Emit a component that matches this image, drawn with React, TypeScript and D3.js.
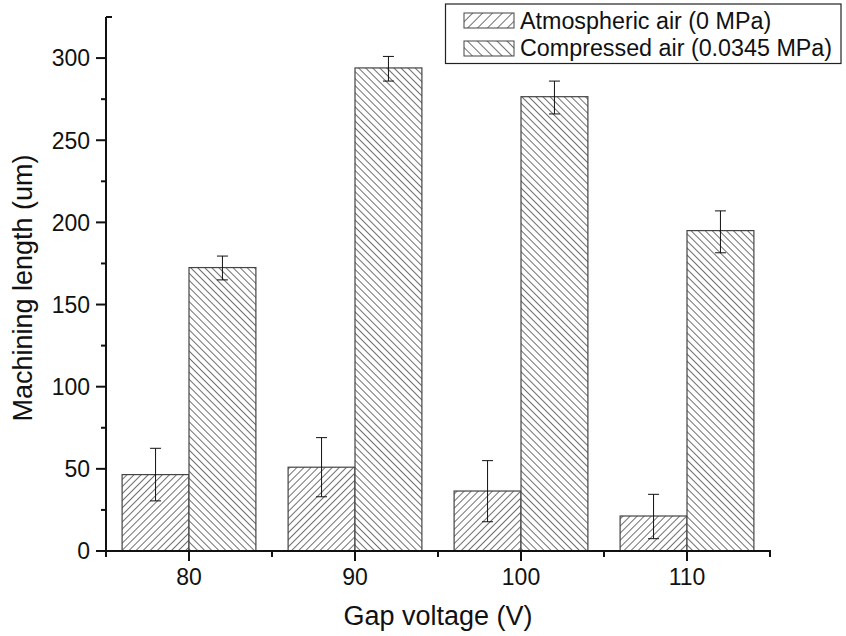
import React from "react";
import * as d3 from "d3";

const categories = ["80", "90", "100", "110"];
const seriesNames = ["Atmospheric air (0 MPa)", "Compressed air (0.0345 MPa)"];
const atmValues = [46.5, 51, 36.5, 21.3];
const atmErrLow = [30.5, 33, 17.8, 7.5];
const atmErrHigh = [62.5, 69, 55, 34.5];
const compValues = [172.5, 294, 276.5, 195];
const compErrLow = [165, 286, 266, 181.5];
const compErrHigh = [179.5, 301, 286, 207];
const yTicks = [0, 50, 100, 150, 200, 250, 300];
const yMinorTicks = [25, 75, 125, 175, 225, 275, 325];

const W = 846;
const H = 636;
const left = 106;
const right = 770;
const top = 17;
const bottom = 551;
const FONT = "'Liberation Sans', Arial, sans-serif";

export default function App() {
  const x = d3.scaleBand<string>().domain(categories).range([left, right]).paddingInner(0).paddingOuter(0);
  const y = d3.scaleLinear().domain([0, 325]).range([bottom, top]);
  const bw = x.bandwidth();
  const barW = bw * 0.403;
  const series = [
    { vals: atmValues, lo: atmErrLow, hi: atmErrHigh, fill: "url(#hatchA)", off: -barW },
    { vals: compValues, lo: compErrLow, hi: compErrHigh, fill: "url(#hatchB)", off: 0 },
  ];
  const minorX: number[] = [];
  categories.forEach((c) => minorX.push(x(c)!));
  minorX.push(right);

  return (
    <svg width={W} height={H} style={{ position: "absolute", left: 0, top: 0, background: "#fff" }} fontFamily={FONT}>
      <defs>
        <pattern id="hatchA" patternUnits="userSpaceOnUse" width={5} height={5} patternTransform="rotate(45)">
          <rect width={5} height={5} fill="#fff" />
          <line x1={0} y1={0} x2={0} y2={5} stroke="#111" strokeWidth={1.2} />
        </pattern>
        <pattern id="hatchB" patternUnits="userSpaceOnUse" width={5} height={5} patternTransform="rotate(-45)">
          <rect width={5} height={5} fill="#fff" />
          <line x1={0} y1={0} x2={0} y2={5} stroke="#111" strokeWidth={1.2} />
        </pattern>
        <pattern id="hatchAL" patternUnits="userSpaceOnUse" width={7} height={7} patternTransform="rotate(45)">
          <rect width={7} height={7} fill="#fff" />
          <line x1={0} y1={0} x2={0} y2={7} stroke="#111" strokeWidth={1.2} />
        </pattern>
        <pattern id="hatchBL" patternUnits="userSpaceOnUse" width={7} height={7} patternTransform="rotate(-45)">
          <rect width={7} height={7} fill="#fff" />
          <line x1={0} y1={0} x2={0} y2={7} stroke="#111" strokeWidth={1.2} />
        </pattern>
      </defs>
      <rect width={W} height={H} fill="#fff" />
      {series.map((s, si) =>
        categories.map((c, i) => {
          const cx = x(c)! + bw / 2;
          const x0 = cx + s.off;
          return (
            <g key={`b${si}-${i}`}>
              <rect x={x0} y={y(s.vals[i])} width={barW} height={bottom - y(s.vals[i])} fill={s.fill} stroke="#444" strokeWidth={1.2} />
            </g>
          );
        })
      )}
      {series.map((s, si) =>
        categories.map((c, i) => {
          const cx = x(c)! + bw / 2;
          const ex = cx + s.off + barW / 2;
          return (
            <g key={`e${si}-${i}`} stroke="#111" strokeWidth={1}>
              <line x1={ex} x2={ex} y1={y(s.hi[i])} y2={y(s.lo[i])} />
              <line x1={ex - 5.5} x2={ex + 5.5} y1={y(s.hi[i])} y2={y(s.hi[i])} />
              <line x1={ex - 5.5} x2={ex + 5.5} y1={y(s.lo[i])} y2={y(s.lo[i])} />
            </g>
          );
        })
      )}
      {/* axes */}
      <line x1={left} x2={left} y1={top} y2={bottom + 1} stroke="#111" strokeWidth={2} />
      <line x1={left - 1} x2={right + 1} y1={bottom} y2={bottom} stroke="#111" strokeWidth={2} />
      <line x1={left} x2={left + 6} y1={top} y2={top} stroke="#111" strokeWidth={2} />
      {yTicks.map((t) => (
        <g key={`yt${t}`}>
          <line x1={left - 10} x2={left} y1={y(t)} y2={y(t)} stroke="#111" strokeWidth={2} />
          <text x={left - 16} y={y(t)} dy="0.36em" textAnchor="end" fontSize={23} fill="#111">{t}</text>
        </g>
      ))}
      {yMinorTicks.filter((t) => y(t) > top + 2).map((t) => (
        <line key={`ym${t}`} x1={left - 5} x2={left} y1={y(t)} y2={y(t)} stroke="#111" strokeWidth={2} />
      ))}
      {categories.map((c) => (
        <g key={`xt${c}`}>
          <line x1={x(c)! + bw / 2} x2={x(c)! + bw / 2} y1={bottom} y2={bottom + 10} stroke="#111" strokeWidth={2} />
          <text x={x(c)! + bw / 2} y={585} textAnchor="middle" fontSize={23} fill="#111">{c}</text>
        </g>
      ))}
      {minorX.map((mx, i) => (
        <line key={`xm${i}`} x1={mx} x2={mx} y1={bottom} y2={bottom + 6} stroke="#111" strokeWidth={2} />
      ))}
      <text x={(left + right) / 2} y={625} textAnchor="middle" fontSize={27} fill="#111">Gap voltage (V)</text>
      <text transform={`translate(32, ${(top + bottom) / 2 + 4}) rotate(-90)`} textAnchor="middle" fontSize={27} fill="#111">Machining length (um)</text>
      {/* legend */}
      <rect x={445.5} y={4} width={395.5} height={59.5} fill="#fff" stroke="#222" strokeWidth={1.2} />
      {seriesNames.map((n, i) => (
        <g key={`lg${i}`}>
          <rect x={464} y={13 + i * 28} width={50} height={15} fill={i === 0 ? "url(#hatchAL)" : "url(#hatchBL)"} stroke="#444" strokeWidth={1} />
          <text x={520} y={28.5 + i * 27} fontSize={23.3} fill="#111">{n}</text>
        </g>
      ))}
    </svg>
  );
}
